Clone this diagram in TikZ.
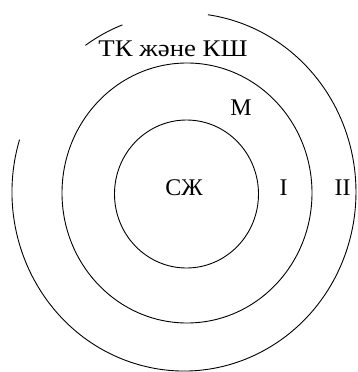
\documentclass[tikz,border=0pt]{standalone}
\usepackage{fontspec}
\setmainfont{Liberation Serif}
\newfontfamily\widefont[FakeStretch=1.12]{Liberation Serif}
\usepackage{tikz}
\usetikzlibrary{positioning}
\tikzset{
  ring/.style={draw=black, line width=0.9bp},
  lbl/.style={inner sep=0pt, font=\fontsize{24}{28}\selectfont}
}
\begin{document}
\begin{tikzpicture}[x=1bp, y=1bp]
  \useasboundingbox (0,0) rectangle (358,-372);
  % Rings
  \draw[ring] (186.5,-194) ellipse [x radius=72, y radius=74];
  \draw[ring] (187,-193) ellipse [x radius=125, y radius=130];
  \draw[ring] (184,-192) ++(163:172 and 179) arc [start angle=163, end angle=442, x radius=172, y radius=179];
  \draw[ring] (184,-192) ++(125:172 and 179) arc [start angle=125, end angle=111, x radius=172, y radius=179];

  % Labels
  \node[lbl] (core) at (184,-188) {СЖ};
  \node[lbl] (ringI) at (283.5,-188) {I};
  \node[lbl] (ringII) at (342.5,-188) {II};
  \node[lbl] (mid) at (241,-108) {М};
  \node[lbl, font=\widefont\fontsize{24}{28}\selectfont] (outer) at (173,-49) {ТК және КШ};
\end{tikzpicture}
\end{document}
